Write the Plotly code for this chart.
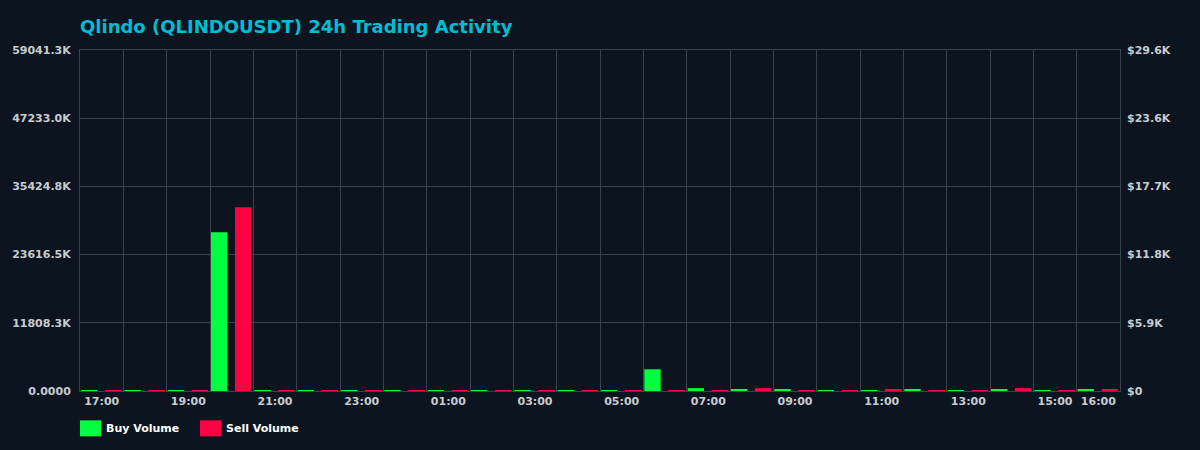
import plotly.graph_objects as go

# hourly buckets, last 24h
hours = ['17:00', '18:00', '19:00', '20:00', '21:00', '22:00', '23:00', '00:00',
         '01:00', '02:00', '03:00', '04:00', '05:00', '06:00', '07:00', '08:00',
         '09:00', '10:00', '11:00', '12:00', '13:00', '14:00', '15:00', '16:00']
shown_hours = ['17:00', '19:00', '21:00', '23:00', '01:00', '03:00', '05:00',
               '07:00', '09:00', '11:00', '13:00', '15:00', '16:00']

# token volume
buy_volume = [150e3, 140e3, 150e3, 27500e3, 150e3, 140e3, 150e3, 130e3,
              150e3, 140e3, 150e3, 130e3, 150e3, 3760e3, 500e3, 320e3,
              330e3, 150e3, 140e3, 330e3, 150e3, 330e3, 140e3, 330e3]
sell_volume = [140e3, 150e3, 140e3, 31830e3, 140e3, 150e3, 140e3, 150e3,
               140e3, 150e3, 140e3, 150e3, 140e3, 140e3, 150e3, 500e3,
               140e3, 150e3, 330e3, 150e3, 140e3, 500e3, 150e3, 330e3]

vol_ticks = [0, 11808.26e3, 23616.52e3, 35424.78e3, 47233.04e3, 59041.3e3]
vol_labels = ['0.0000', '11808.3K', '23616.5K', '35424.8K', '47233.0K', '59041.3K']
usd_ticks = [0, 5911, 11822, 17733, 23644, 29555]
usd_labels = ['$0', '$5.9K', '$11.8K', '$17.7K', '$23.6K', '$29.6K']

GREEN = '#00ff41'
RED = '#ff0040'
BG = '#0c151f'
GRID = '#3a424c'
TICK = '#c8ccd0'
tick_font = dict(family='DejaVu Sans', size=11, color=TICK, weight='bold')

fig = go.Figure()
fig.add_trace(go.Bar(x=hours, y=buy_volume, name='Buy Volume',
                     marker=dict(color=GREEN, line=dict(width=0)),
                     offset=-0.477, width=0.377, showlegend=False))
fig.add_trace(go.Bar(x=hours, y=sell_volume, name='Sell Volume',
                     marker=dict(color=RED, line=dict(width=0)),
                     offset=0.077, width=0.38, showlegend=False))
# invisible trace so the USD axis is drawn
fig.add_trace(go.Scatter(x=hours[:1], y=[0], yaxis='y2', mode='markers',
                         marker=dict(opacity=0), showlegend=False, hoverinfo='skip'))

ticktext = [h if h in shown_hours else '' for h in hours]

# legend drawn by hand (bigger swatches than plotly's)
L, PW = 80, 1040
for i, (name, col) in enumerate([('Buy Volume', GREEN), ('Sell Volume', RED)]):
    x0 = 80 + i * 120
    fig.add_shape(type='rect', xref='paper', yref='paper',
                  x0=(x0 - L) / PW, x1=(x0 + 21 - L) / PW,
                  y0=(390.7 - 436) / 340.7, y1=(390.7 - 420) / 340.7,
                  fillcolor=col, line=dict(width=0))
    fig.add_annotation(text=name, xref='paper', yref='paper',
                       x=(x0 + 24 - L) / PW, y=(390.7 - 428) / 340.7,
                       xanchor='left', yanchor='middle', showarrow=False,
                       font=dict(family='DejaVu Sans', size=11, color='#ffffff',
                                 weight='bold'))

fig.update_layout(
    width=1200, height=450,
    paper_bgcolor=BG, plot_bgcolor=BG,
    margin=dict(l=80, r=80, t=50, b=59),
    barmode='overlay',
    title=dict(text='<b>Qlindo (QLINDOUSDT) 24h Trading Activity</b>',
               x=80 / 1200, xanchor='left', y=1 - 27 / 450, yanchor='middle',
               font=dict(family='DejaVu Sans', size=18, color='#00bcd4')),
    font=dict(family='DejaVu Sans', size=11, color=TICK),
    xaxis=dict(type='category', tickson='boundaries', tickmode='array',
               tickvals=hours, ticktext=ticktext, ticklen=0, tickangle=0,
               range=[-0.5, 23.5],
               showgrid=True, gridcolor=GRID, gridwidth=1,
               showline=True, linecolor=GRID, linewidth=1, mirror=True,
               zeroline=False, tickfont=tick_font),
    yaxis=dict(range=[0, vol_ticks[-1]], tickmode='array', tickvals=vol_ticks,
               ticktext=vol_labels, showgrid=True, gridcolor=GRID, gridwidth=1,
               zeroline=False, showline=True, linecolor=GRID, linewidth=1,
               mirror=True, ticks='', ticklabelstandoff=6, tickfont=tick_font),
    yaxis2=dict(range=[0, usd_ticks[-1]], overlaying='y', side='right',
                tickmode='array', tickvals=usd_ticks, ticktext=usd_labels,
                showgrid=False, zeroline=False, showline=False, ticks='',
                ticklabelstandoff=6, tickfont=tick_font),
    showlegend=False,
)

fig.write_html('out.html', config={'displayModeBar': False},
               post_script="document.body.style.margin='0';")
